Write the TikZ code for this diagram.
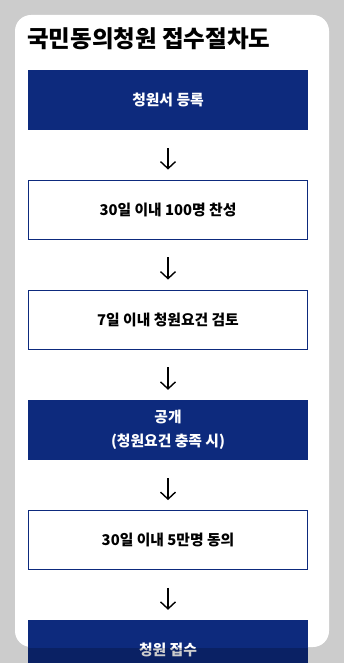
\documentclass[tikz,border=0pt]{standalone}
\usepackage{fontspec}
\setmainfont{Noto Sans CJK KR}
\usetikzlibrary{arrows.meta}
\definecolor{navy}{RGB}{13,42,125}
\definecolor{bggray}{RGB}{204,204,204}
\tikzset{
  boxbase/.style={minimum width=280pt, minimum height=60pt, inner sep=0pt,
    font=\fontsize{14.8}{24}\selectfont\bfseries, align=center},
  filledbox/.style={boxbase, fill=navy, text=white},
  outlinebox/.style={boxbase, draw=navy, line width=0.9pt, fill=white, text=black,
    minimum width=279pt, minimum height=59pt},
  flowarrow/.style={draw=black, line width=1.4pt,
    -{Straight Barb[length=7pt,width=15pt,line width=1.4pt]},
    shorten <=18pt, shorten >=10pt},
}
\begin{document}
\begin{tikzpicture}[x=1pt,y=-1pt]
\useasboundingbox (0,0) rectangle (344,663);
\clip (0,0) rectangle (344,663);
\fill[bggray] (0,0) rectangle (344,663);
\fill[white, rounded corners=16pt] (15,15) rectangle (329,647);
\node[anchor=west, inner sep=0pt, font=\fontsize{23.5}{27}\selectfont\bfseries] (title) at (27,39) {국민동의청원 접수절차도};
\node[filledbox] (b1) at (168,100) {청원서 등록};
\node[outlinebox] (b2) at (168,209.5) {30일 이내 100명 찬성};
\node[outlinebox] (b3) at (168,319.5) {7일 이내 청원요건 검토};
\node[filledbox] (b4) at (168,430) {공개\\(청원요건 충족 시)};
\node[outlinebox] (b5) at (168,540) {30일 이내 5만명 동의};
\node[filledbox] (b6) at (168,650) {청원 접수};
\draw[flowarrow] (b1.south) -- (b2.north);
\draw[flowarrow] (b2.south) -- (b3.north);
\draw[flowarrow] (b3.south) -- (b4.north);
\draw[flowarrow] (b4.south) -- (b5.north);
\draw[flowarrow] (b5.south) -- (b6.north);
\fill[black, opacity=0.2] (28,648) rectangle (308,663);
\end{tikzpicture}
\end{document}
